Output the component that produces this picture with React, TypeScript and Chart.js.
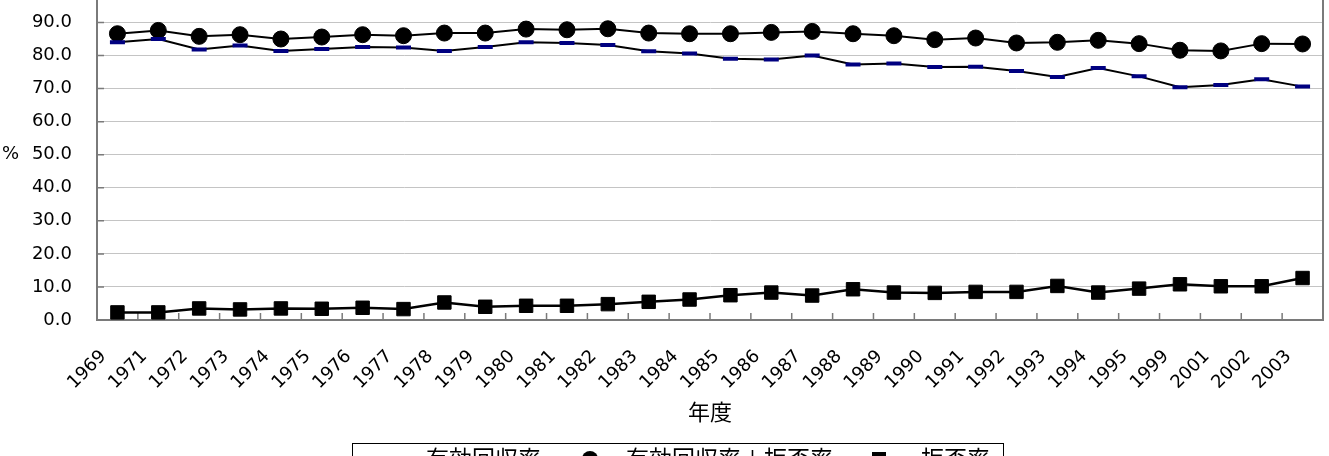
import React, { useEffect, useRef } from 'react';
import { Chart, registerables } from 'chart.js';

Chart.register(...registerables);

const years = [
  '1969', '1971', '1972', '1973', '1974', '1975', '1976', '1977', '1978', '1979',
  '1980', '1981', '1982', '1983', '1984', '1985', '1986', '1987', '1988', '1989',
  '1990', '1991', '1992', '1993', '1994', '1995', '1999', '2001', '2002', '2003',
];

const validRate = [
  84.0, 85.0, 81.8, 83.0, 81.4, 82.0, 82.6, 82.4, 81.4, 82.6,
  84.0, 83.8, 83.2, 81.3, 80.6, 79.0, 78.8, 80.0, 77.3, 77.6,
  76.5, 76.6, 75.3, 73.5, 76.2, 73.7, 70.4, 71.1, 72.8, 70.6,
];

const validPlusRefusal = [
  86.6, 87.6, 85.8, 86.3, 85.0, 85.6, 86.3, 86.0, 86.8, 86.8,
  88.0, 87.8, 88.1, 86.8, 86.6, 86.6, 87.0, 87.3, 86.6, 86.0,
  84.8, 85.3, 83.8, 84.0, 84.6, 83.6, 81.6, 81.4, 83.6, 83.5,
];

const refusal = [
  2.3, 2.3, 3.5, 3.2, 3.5, 3.4, 3.7, 3.3, 5.3, 4.0,
  4.3, 4.3, 4.8, 5.5, 6.2, 7.5, 8.3, 7.4, 9.3, 8.3,
  8.2, 8.5, 8.5, 10.3, 8.3, 9.5, 10.8, 10.2, 10.2, 12.7,
];

const yTicks = [0, 10, 20, 30, 40, 50, 60, 70, 80, 90];

const seriesLabels = ['有効回収率', '有効回収率＋拒否率', '拒否率'];
const xTitle = '年度';
const yTitle = '%';

const NUM_FONT = '"DejaVu Sans", "Noto Sans CJK JP", sans-serif';
const CJK_FONT = '"Noto Sans CJK JP", "Noto Sans CJK SC", sans-serif';
const AXIS_COLOR = '#7a7a7a';
const NAVY = '#000080';

function drawMarker(ctx: CanvasRenderingContext2D, kind: string, x: number, y: number) {
  ctx.save();
  if (kind === 'line') {
    ctx.strokeStyle = NAVY;
    ctx.lineWidth = 4;
    ctx.beginPath();
    ctx.moveTo(x - 7.5, y);
    ctx.lineTo(x + 7.5, y);
    ctx.stroke();
  } else if (kind === 'circle') {
    ctx.fillStyle = '#000';
    ctx.beginPath();
    ctx.arc(x, y, 8, 0, Math.PI * 2);
    ctx.fill();
  } else {
    ctx.fillStyle = '#000';
    ctx.fillRect(x - 7, y - 7, 14, 14);
  }
  ctx.restore();
}

export default function App() {
  const ref = useRef<HTMLCanvasElement>(null);

  useEffect(() => {
    const canvas = ref.current;
    if (!canvas) return;

    const markerKinds = ['line', 'circle', 'rect'];
    const legendMarkerX = [390, 590, 879];
    const legendTextX = [426, 626, 921];

    const decor = {
      id: 'decor',
      beforeDatasetsDraw(chart: any) {
        const { ctx, chartArea: a, scales } = chart;
        const xs = scales.x;
        const ys = scales.y;
        ctx.save();
        ctx.strokeStyle = AXIS_COLOR;
        ctx.lineWidth = 1.5;
        ctx.beginPath();
        for (const v of yTicks) {
          if (v === 0) continue;
          const py = ys.getPixelForValue(v);
          ctx.moveTo(a.left, py);
          ctx.lineTo(a.left + 7, py);
        }
        for (let i = 1; i < years.length; i++) {
          const px = (xs.getPixelForValue(i - 1) + xs.getPixelForValue(i)) / 2;
          ctx.moveTo(px, a.bottom);
          ctx.lineTo(px, a.bottom - 7);
        }
        ctx.stroke();
        ctx.lineWidth = 2;
        ctx.beginPath();
        ctx.moveTo(a.right, a.top);
        ctx.lineTo(a.right, a.bottom + 1);
        ctx.stroke();
        ctx.restore();
      },
      afterDraw(chart: any) {
        const { ctx, chartArea: a } = chart;
        ctx.save();
        ctx.fillStyle = '#000';
        ctx.textBaseline = 'middle';
        // y title
        ctx.font = `18px ${NUM_FONT}`;
        ctx.textAlign = 'right';
        ctx.fillText(yTitle, 19, chart.scales.y.getPixelForValue(50));
        // x title
        ctx.font = `22px ${CJK_FONT}`;
        ctx.textAlign = 'center';
        ctx.fillText(xTitle, (a.left + a.right) / 2, 412);
        // legend box
        ctx.strokeStyle = '#000';
        ctx.lineWidth = 1;
        ctx.strokeRect(352.5, 443.5, 651, 30);
        const ly = 459;
        chart.data.datasets.forEach((ds: any, i: number) => {
          const mx = legendMarkerX[i];
          ctx.strokeStyle = '#000';
          ctx.lineWidth = 2;
          ctx.beginPath();
          ctx.moveTo(mx - 22, ly);
          ctx.lineTo(mx + 22, ly);
          ctx.stroke();
          drawMarker(ctx, markerKinds[i], mx, ly);
          ctx.fillStyle = '#000';
          ctx.font = `23px ${CJK_FONT}`;
          ctx.textAlign = 'left';
          ctx.fillText(ds.label, legendTextX[i], ly - 1);
        });
        ctx.restore();
      },
    };

    const chart = new Chart(canvas, {
      type: 'line',
      data: {
        labels: years,
        datasets: [
          {
            label: seriesLabels[0],
            data: validRate,
            borderColor: '#000',
            borderWidth: 2,
            pointStyle: 'line',
            pointRadius: 7.5,
            pointBorderWidth: 4,
            pointBorderColor: NAVY,
            pointBackgroundColor: NAVY,
            tension: 0,
          },
          {
            label: seriesLabels[1],
            data: validPlusRefusal,
            borderColor: '#000',
            borderWidth: 2,
            pointStyle: 'circle',
            pointRadius: 8,
            pointBorderWidth: 1,
            pointBorderColor: '#000',
            pointBackgroundColor: '#000',
            tension: 0,
          },
          {
            label: seriesLabels[2],
            data: refusal,
            borderColor: '#000',
            borderWidth: 2.5,
            pointStyle: 'rect',
            pointRadius: 9.5,
            pointBorderWidth: 1,
            pointBorderColor: '#000',
            pointBackgroundColor: '#000',
            tension: 0,
          },
        ],
      },
      options: {
        animation: false,
        responsive: false,
        devicePixelRatio: 1,
        layout: { autoPadding: false, padding: { left: 0, right: 6, top: 0, bottom: 0 } },
        plugins: {
          legend: { display: false },
          tooltip: { enabled: false },
          title: { display: false },
        },
        scales: {
          x: {
            type: 'category',
            offset: true,
            grid: { display: false, drawTicks: false },
            border: { display: true, color: AXIS_COLOR, width: 2 },
            ticks: {
              autoSkip: false,
              maxRotation: 45,
              minRotation: 45,
              padding: 26,
              labelOffset: -14,
              color: '#000',
              font: { family: NUM_FONT, size: 18 },
            },
            afterFit(scale: any) {
              scale.height = 136;
              scale.paddingLeft = 0;
              scale.paddingRight = 0;
            },
          },
          y: {
            min: 0,
            max: 96.8,
            grid: { color: '#c4c4c4', lineWidth: 1, drawTicks: false },
            border: { display: true, color: AXIS_COLOR, width: 2 },
            ticks: {
              padding: 25,
              color: '#000',
              font: { family: NUM_FONT, size: 18 },
              callback: (v: any) => Number(v).toFixed(1),
            },
            afterBuildTicks(scale: any) {
              scale.ticks = yTicks.map((v) => ({ value: v }));
            },
            afterFit(scale: any) {
              scale.width = 97;
              scale.paddingTop = 0;
              scale.paddingBottom = 0;
            },
          },
        },
      },
      plugins: [decor],
    } as any);

    return () => chart.destroy();
  }, []);

  return (
    <div style={{ position: 'absolute', left: 0, top: 0, width: 1329, height: 456, background: '#fff' }}>
      <canvas ref={ref} width={1329} height={456} style={{ display: 'block', width: 1329, height: 456 }} />
    </div>
  );
}
